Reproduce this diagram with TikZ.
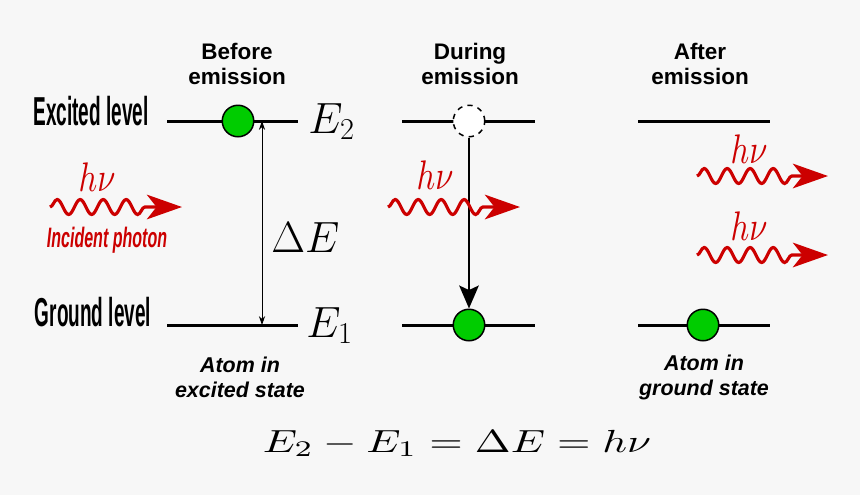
\documentclass[tikz,border=0pt]{standalone}
\usepackage{fontspec}
\newfontfamily\labelfont{Liberation Sans}
\usetikzlibrary{arrows.meta,decorations.pathmorphing}
\definecolor{bgcol}{HTML}{F7F7F7}
\definecolor{photonred}{HTML}{CC0000}
\definecolor{atomgreen}{HTML}{00CC00}

\begin{document}
\begin{tikzpicture}[x=0.02cm,y=-0.02cm,
  level/.style={line width=1.7pt},
  atom/.style={circle, draw, line width=0.85pt, fill=atomgreen, minimum size=0.63cm, inner sep=0pt},
  hole/.style={atom, dashed, fill=white},
  photon/.style={photonred, line width=1.8pt, -{Stealth[length=20pt,width=14pt,inset=5.5pt]},
    decorate, decoration={snake, amplitude=0.15cm, segment length=0.46cm, post length=0.7cm}},
  head/.style={font=\labelfont\bfseries\fontsize{12.8}{14.7}\selectfont, align=center, inner sep=0pt},
  state/.style={font=\labelfont\bfseries\itshape\fontsize{12.2}{14.2}\selectfont, align=center, inner sep=0pt},
  side/.style={font=\labelfont\bfseries\fontsize{23}{26}\selectfont, xscale=0.47, inner sep=0pt},
  energy/.style={font=\fontsize{25}{30}\selectfont, inner sep=0pt},
  hnu/.style={photonred, xscale=1.85, yscale=2.35, inner sep=0pt, anchor=base}]
  \fill[bgcol] (0,0) rectangle (860,495);
  \useasboundingbox (0,0) rectangle (860,495);
  % headings
  \node[head] (before) at (237,64) {Before\\emission};
  \node[head] (during) at (470,64) {During\\emission};
  \node[head] (after) at (700,64) {After\\emission};
  \node[side] (exclvl) at (91,111) {Excited level};
  \node[side] (gndlvl) at (93,312) {Ground level};
  % energy levels
  \draw[level] (167,121) -- (298,121);
  \draw[level] (167,325) -- (298,325);
  \draw[level] (402,121) -- (535,121);
  \draw[level] (402,325) -- (535,325);
  \draw[level] (638,121) -- (770,121);
  \draw[level] (638,325) -- (770,325);
  \coordinate (gaptop) at (262,121);
  \coordinate (gapbot) at (262,325);
  \draw[line width=0.55pt, {Stealth[length=5pt,width=3.5pt,inset=1.5pt]}-{Stealth[length=5pt,width=3.5pt,inset=1.5pt]}] (gaptop) -- (gapbot);
  \node[energy, anchor=base west] (e2) at (308,133) {$E_2$};
  \node[energy, anchor=base west] (e1) at (306,337) {$E_1$};
  \node[energy, anchor=base west] (de) at (271,252) {$\Delta E$};
  % atoms
  \node[atom] (exc) at (238,121) {};
  \node[hole] (gone) at (469,121) {};
  \node[atom] (fall) at (469,325) {};
  \node[atom] (rest) at (703,325) {};
  \draw[line width=1.7pt, -{Stealth[length=13pt,width=11pt,inset=2.5pt]}] (gone) -- (fall);
  % photons
  \coordinate (inA) at (50,207);   \coordinate (inB) at (182,207);
  \coordinate (midA) at (388,207); \coordinate (midB) at (520,207);
  \coordinate (outA) at (697,176); \coordinate (outB) at (828,176);
  \coordinate (outC) at (697,255); \coordinate (outD) at (828,255);
  \draw[photon] (inA) -- (inB);
  \draw[photon] (midA) -- (midB);
  \draw[photon] (outA) -- (outB);
  \draw[photon] (outC) -- (outD);
  \node[hnu] (nu1) at (97,191) {$h\nu$};
  \node[hnu] (nu2) at (435,189) {$h\nu$};
  \node[hnu] (nu3) at (749,163) {$h\nu$};
  \node[hnu] (nu4) at (749,240) {$h\nu$};
  \node[photonred, font=\labelfont\bfseries\itshape\fontsize{16}{19}\selectfont, xscale=0.57, inner sep=0pt] (incid) at (107,240) {Incident photon};
  % states
  \node[state] (st1) at (240,377) {Atom in\\excited state};
  \node[state] (st2) at (704,377) {Atom in\\ground state};
  \node[xscale=2.45, yscale=1.82, inner sep=0pt, anchor=base] (law) at (457,452) {$E_2-E_1=\Delta E=h\nu$};
\end{tikzpicture}
\end{document}
